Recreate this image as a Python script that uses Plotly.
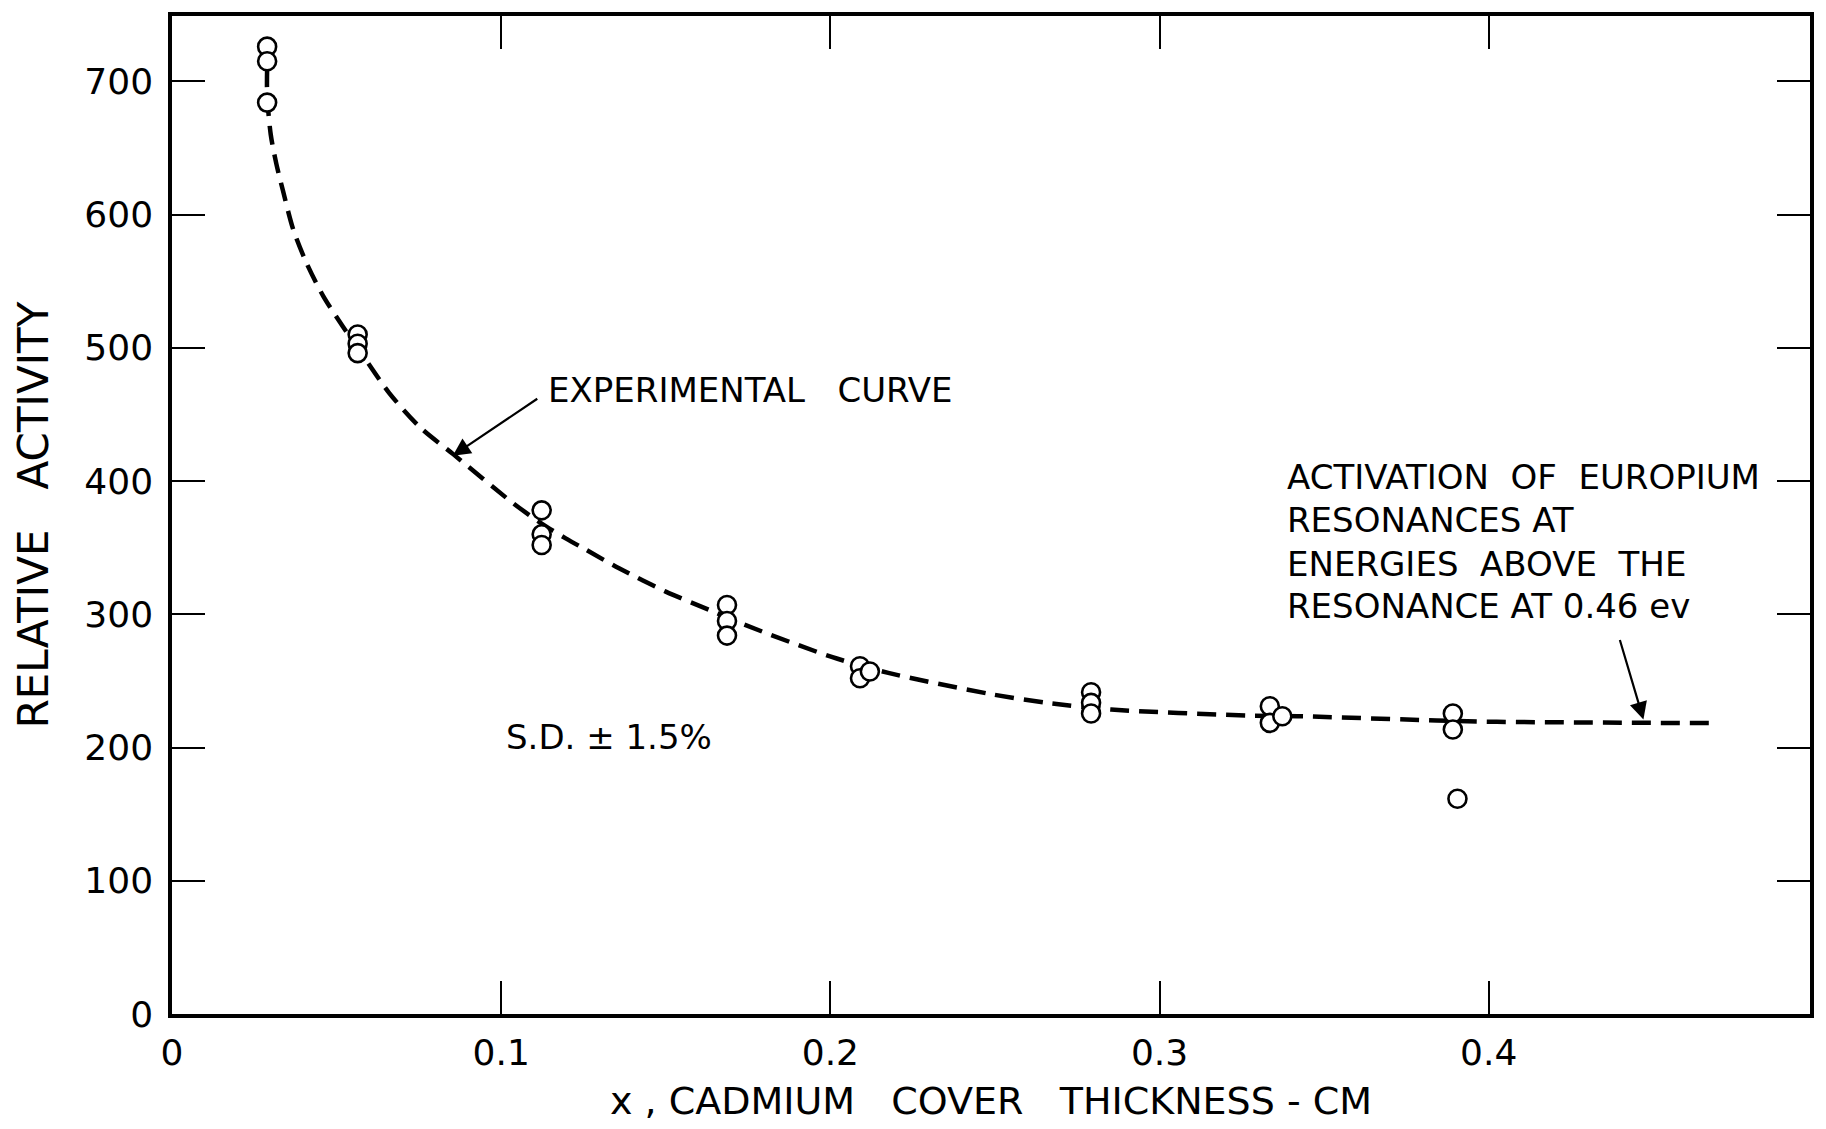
import plotly.graph_objects as go

# Measured activity of europium foils vs. cadmium cover thickness
thickness_cm = [
    0.0289, 0.0289, 0.0289,
    0.0564, 0.0564, 0.0564,
    0.1123, 0.1123, 0.1123,
    0.1686, 0.1686, 0.1686,
    0.2090, 0.2090, 0.2120,
    0.2792, 0.2792, 0.2792,
    0.3335, 0.3335, 0.3373,
    0.3891, 0.3891, 0.3905,
]
relative_activity = [
    726, 715, 684,
    510, 503, 496,
    378, 360, 352,
    307, 295, 284,
    261, 252, 257,
    241.5, 233.5, 225.5,
    231, 218.5, 223.5,
    225.5, 213.5, 161.5,
]

# Hand-drawn experimental curve through the measurements
curve_x = [0.0289, 0.0289, 0.0300, 0.0317, 0.0337, 0.0368, 0.0408, 0.0459,
           0.0519, 0.0564, 0.0660, 0.0755, 0.0855, 0.1033, 0.1123, 0.1196,
           0.1257, 0.1358, 0.1500, 0.1640, 0.1741, 0.2004, 0.2176, 0.2489,
           0.2660, 0.2853, 0.3267, 0.3418, 0.3842, 0.4024, 0.4695]
curve_y = [710, 690, 660, 638, 618, 589, 564, 539,
           516, 500, 466, 440, 420, 384, 368, 357,
           348.5, 334.5, 317, 302.5, 292, 268, 256, 240,
           233.5, 228.5, 224, 223.5, 220.3, 219.3, 218.3]

x_ticks = [0, 0.1, 0.2, 0.3, 0.4]
x_tick_labels = ["0", "0.1", "0.2", "0.3", "0.4"]
y_ticks = [0, 100, 200, 300, 400, 500, 600, 700]

FONT = "DejaVu Sans"
NB = "\u00a0"

fig = go.Figure()

fig.add_trace(go.Scatter(
    x=curve_x, y=curve_y, mode="lines",
    line=dict(color="black", width=4.5, dash="19px,10px", shape="spline", smoothing=0.8),
    hoverinfo="skip", showlegend=False,
))

fig.add_trace(go.Scatter(
    x=thickness_cm, y=relative_activity, mode="markers",
    marker=dict(symbol="circle", size=18, color="white",
                line=dict(color="black", width=2.6)),
    showlegend=False,
))

text_font = dict(family=FONT, size=34, color="black")

# Label and pointer for the experimental curve
fig.add_annotation(x=0.1136, y=468, xref="x", yref="y",
                   text="EXPERIMENTAL" + NB * 3 + "CURVE", showarrow=False,
                   xanchor="left", yanchor="middle", font=text_font)
fig.add_annotation(x=0.0853, y=419, xref="x", yref="y", text="",
                   showarrow=True, ax=86, ay=-58, arrowhead=2, arrowsize=1.6,
                   arrowwidth=2.2, arrowcolor="black")

fig.add_annotation(x=0.1009, y=208, xref="x", yref="y",
                   text="S.D." + NB + "±" + NB + "1.5%", showarrow=False,
                   xanchor="left", yanchor="middle", font=text_font)

# Label and pointer for the resonance plateau
note_lines = [
    "ACTIVATION" + NB * 2 + "OF" + NB * 2 + "EUROPIUM",
    "RESONANCES" + NB + "AT",
    "ENERGIES" + NB * 2 + "ABOVE" + NB * 2 + "THE",
    "RESONANCE" + NB + "AT" + NB + "0.46" + NB + "ev",
]
note_y = [403, 371, 338, 306]
for line, yv in zip(note_lines, note_y):
    fig.add_annotation(x=0.3382, y=yv, xref="x", yref="y",
                       text=line, showarrow=False,
                       xanchor="left", yanchor="middle", font=text_font)
fig.add_annotation(x=0.4470, y=221, xref="x", yref="y", text="",
                   showarrow=True, ax=-24, ay=-81, arrowhead=2, arrowsize=1.6,
                   arrowwidth=2.2, arrowcolor="black")

axis_common = dict(
    showline=True, linecolor="black", linewidth=3.5, mirror="ticks",
    ticks="inside", ticklen=33, tickwidth=2, tickcolor="black",
    showgrid=False, zeroline=False,
    tickfont=dict(family=FONT, size=36, color="black"),
)

fig.update_xaxes(
    range=[0, 0.4976], tickvals=x_ticks, ticktext=x_tick_labels,
    title=dict(text="x" + NB + "," + NB + "CADMIUM" + NB * 3 + "COVER" + NB * 3 +
               "THICKNESS" + NB + "-" + NB + "CM",
               font=dict(family=FONT, size=38, color="black"), standoff=16),
    ticklabelstandoff=4,
    **axis_common,
)
fig.update_yaxes(
    range=[0, 749], tickvals=y_ticks,
    title=dict(text="RELATIVE" + NB * 3 + "ACTIVITY",
               font=dict(family=FONT, size=42, color="black"), standoff=24),
    ticklabelstandoff=8,
    **axis_common,
)

fig.update_layout(
    width=1826, height=1129,
    margin=dict(l=172, r=12, t=12, b=115),
    paper_bgcolor="white", plot_bgcolor="white",
    font=dict(family=FONT, color="black"),
)

fig.write_html("out.html")
